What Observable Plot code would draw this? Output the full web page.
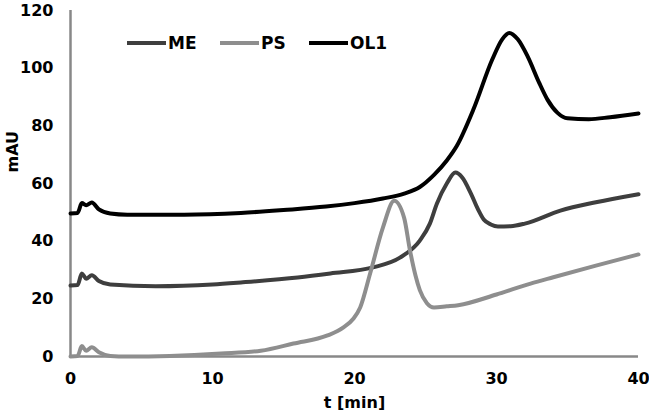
<!DOCTYPE html>
<html>
<head>
<meta charset="utf-8">
<script src="https://cdn.jsdelivr.net/npm/d3@7"></script>
<script src="https://cdn.jsdelivr.net/npm/@observablehq/plot@0.6"></script>
<style>
  html, body { margin: 0; padding: 0; background: #fff; }
  #wrap { position: relative; width: 649px; height: 416px; font-family: "DejaVu Sans", sans-serif; }
  .leg { position: absolute; top: 33px; height: 20px; display: flex; align-items: center; font-weight: bold; font-size: 17px; color: #000; }
  .leg span.sw { display: inline-block; width: 39px; height: 4px; margin-right: 2px; }
</style>
</head>
<body>
<div id="wrap"></div>
<script>
// Series data: time [min] and absorbance [mAU]
const seriesNames = ["ME", "PS", "OL1"];
const seriesColors = ["#3e3e3e", "#8e8e8e", "#000000"];

const tME = [0, 0.5, 0.8, 1.1, 1.5, 2.0, 2.8, 6, 10, 12, 16, 18.3, 21.3, 23.2, 24.6, 25.3, 25.8, 26.5, 27.1, 27.6, 28.2, 28.7, 29.1, 29.6, 30.1, 31, 32, 34.5, 37, 40];
const vME = [24.6, 24.8, 28.8, 27, 28.2, 26.2, 25, 24.4, 25, 25.7, 27.4, 28.8, 30.9, 34.3, 40.2, 46, 53, 60, 63.8, 62, 56.5, 51, 47.5, 45.8, 45.1, 45.2, 46.1, 50.6, 53.5, 56.3];

const tPS = [0, 0.5, 0.8, 1.1, 1.5, 2, 2.8, 4, 7, 10.6, 13.4, 15.7, 18.1, 19.2, 19.9, 20.4, 21.1, 22, 22.8, 23.5, 23.9, 24.3, 24.6, 25.1, 25.6, 26.5, 27.3, 30, 32.4, 34, 37, 40];
const vPS = [0, 0.2, 3.6, 2, 3.2, 1.5, 0.2, 0, 0.2, 1, 2, 4.5, 7.3, 10, 13, 17, 28.8, 44.7, 54, 48, 37, 28, 23, 18.5, 17, 17.4, 17.8, 21.5, 25.3, 27.5, 31.5, 35.4];

const tOL1 = [0, 0.5, 0.8, 1.1, 1.5, 2.0, 2.8, 4, 8, 12, 15, 18, 20, 22, 23.5, 24.6, 25.6, 26.5, 27.2, 28.4, 29.7, 30.4, 30.9, 31.5, 32.2, 33, 33.6, 34.3, 35, 36.5, 38, 40];
const vOL1 = [49.6, 49.8, 53.2, 52.5, 53.4, 51, 49.6, 49.2, 49.2, 49.8, 50.8, 52, 53.2, 54.8, 56.5, 58.8, 63, 68, 73, 86, 103, 110, 112.2, 110, 104, 95, 89, 84.5, 82.6, 82.3, 83, 84.3];

const xTicks = [0, 10, 20, 30, 40];
const yTicks = [0, 20, 40, 60, 80, 100, 120];

const rows = [];
[[tME, vME, "ME"], [tPS, vPS, "PS"], [tOL1, vOL1, "OL1"]].forEach(([ts, vs, name]) => {
  ts.forEach((t, i) => rows.push({t, v: vs[i], series: name}));
});

const font = "DejaVu Sans, sans-serif";

const chart = Plot.plot({
  width: 649,
  height: 416,
  marginLeft: 70,
  marginRight: 11,
  marginTop: 10,
  marginBottom: 60,
  style: {fontFamily: font, fontSize: "16px", fontWeight: "bold", color: "#000", background: "#fff"},
  x: {domain: [0, 40], ticks: xTicks, label: null},
  y: {domain: [0, 120], ticks: yTicks, label: null},
  color: {domain: seriesNames, range: seriesColors},
  marks: [
    Plot.axisX({ticks: xTicks, tickSize: 0, tickPadding: 16, fontSize: 16, fontWeight: "bold", label: null}),
    Plot.axisY({ticks: yTicks, tickSize: 0, tickPadding: 17, fontSize: 16, fontWeight: "bold", label: null}),
    Plot.ruleY([0], {stroke: "#888", strokeWidth: 2.5}),
    Plot.ruleX([0], {stroke: "#888", strokeWidth: 2.5}),
    Plot.line(rows, {x: "t", y: "v", z: "series", stroke: "series", strokeWidth: 4, curve: "monotone-x"}),
    Plot.text(["t [min]"], {frameAnchor: "bottom", dy: 51, fontSize: 16, fontWeight: "bold", fill: "#000"}),
    Plot.text(["mAU"], {frameAnchor: "left", dx: -58, dy: -11, rotate: -90, fontSize: 16, fontWeight: "bold", fill: "#000"})
  ]
});

const wrap = document.getElementById("wrap");
wrap.appendChild(chart);

// Legend
const legendLeft = [127, 220, 309];
seriesNames.forEach((name, i) => {
  const d = document.createElement("div");
  d.className = "leg";
  d.style.left = legendLeft[i] + "px";
  const sw = document.createElement("span");
  sw.className = "sw";
  sw.style.background = seriesColors[i];
  d.appendChild(sw);
  d.appendChild(document.createTextNode(name));
  wrap.appendChild(d);
});
</script>
</body>
</html>
